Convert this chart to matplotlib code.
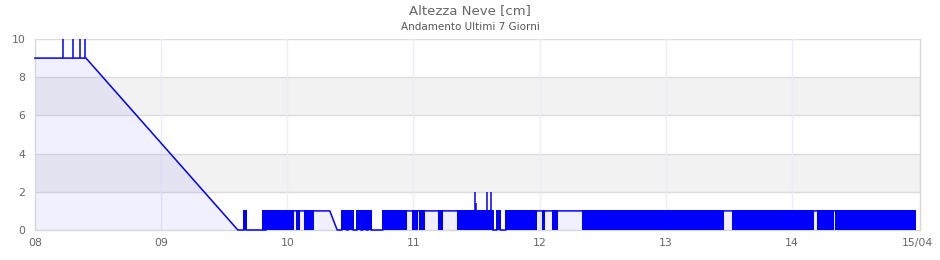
import matplotlib
matplotlib.use("Agg")
import matplotlib.pyplot as plt

# ---- data (time in hours since 08/04 00:00) ----
tick_hours = [0, 24, 48, 72, 96, 120, 144, 168]
tick_labels = ["08", "09", "10", "11", "12", "13", "14", "15/04"]

# early part: constant 9 cm then linear decline to 0
early_t = [0, 9.7, 38.6]
early_v = [9, 9, 0]

# isolated spikes (time, base level, top value)
spike_t = [5.4, 7.3, 8.5, 9.5, 83.7, 84.0, 86.0, 86.8]
spike_base = [9, 9, 9, 9, 1, 1, 1, 1]
spike_v = [10, 10, 10, 10, 2, 1.4, 2, 2]

# later part: segments; state lo = 0 cm, hi = 1 cm,
# mix = readings flickering between 0 and 1 cm, ramp = linear change
seg_start = [38.6, 39.8, 40.1, 43.4, 43.6, 44.0, 48.1, 48.5, 49.1, 49.8,
             50.2, 51.4, 52.9, 56.1, 57.5, 58.4, 59.3, 59.6, 60.5, 61.3,
             62.0, 62.4, 63.0, 63.4, 63.9, 66.2, 69.5, 69.8, 70.6, 71.9,
             72.7, 73.3, 74.0, 76.9, 77.4, 80.5, 87.1, 87.9, 88.5, 89.6,
             91.6, 91.9, 93.4, 93.8, 94.1, 94.4, 95.3, 96.6, 96.9, 98.6,
             99.3, 104.3, 116.3, 116.6, 119.5, 119.9, 120.0, 120.3, 121.7, 122.0,
             122.8, 123.1, 124.1, 124.4, 125.1, 125.4, 126.0, 126.3, 127.1, 127.5,
             128.9, 129.2, 130.9, 132.8, 133.5, 133.8, 135.0, 135.3, 136.5, 136.8,
             138.2, 138.5, 140.1, 140.4, 141.3, 141.6, 143.0, 143.3, 143.9, 144.2,
             145.4, 145.7, 146.8, 147.1, 147.5, 147.8, 148.0, 149.0, 151.8, 152.4,
             158.2, 158.5, 162.2, 162.5, 163.5, 163.8]
seg_state = ["lo", "mix", "lo", "mix", "lo", "mix", "hi", "mix", "hi", "mix",
             "hi", "mix", "hi", "ramp", "lo", "mix", "lo", "mix", "lo", "mix",
             "lo", "mix", "lo", "mix", "lo", "mix", "hi", "mix", "hi", "mix",
             "hi", "mix", "hi", "mix", "hi", "mix", "lo", "mix", "lo", "mix",
             "hi", "mix", "hi", "mix", "hi", "mix", "hi", "mix", "hi", "mix",
             "hi", "mix", "hi", "mix", "hi", "mix", "hi", "mix", "hi", "mix",
             "hi", "mix", "hi", "mix", "hi", "mix", "hi", "mix", "hi", "mix",
             "hi", "mix", "hi", "mix", "hi", "mix", "hi", "mix", "hi", "mix",
             "hi", "mix", "hi", "mix", "hi", "mix", "hi", "mix", "hi", "mix",
             "hi", "mix", "hi", "mix", "hi", "mix", "hi", "mix", "hi", "mix",
             "hi", "mix", "hi", "mix", "hi", "mix"]
seg_last_end = 167.4
level_of = {"lo": 0, "hi": 1, "mix": 1}

# ---- figure ----
fig = plt.figure(figsize=(9.4, 2.6), dpi=100)
ax = fig.add_axes([35 / 940, 1 - 230 / 260, 885 / 940, 191 / 260])

BLUE = "#0000ff"
GRAY_TXT = "#666666"

# bands
for lo, hi in [(2, 4), (6, 8)]:
    ax.axhspan(lo, hi, color="#f2f2f2", lw=0, zorder=0)

# build path
xs = list(early_t)
ys = list(early_v)
ends = seg_start[1:] + [seg_last_end]
mix_s, mix_w = [], []
for s, e, st in zip(seg_start, ends, seg_state):
    if st == "ramp":
        continue
    v = level_of[st]
    xs += [s, e]
    ys += [v, v]
    if st == "mix":
        mix_s.append(s)
        mix_w.append(e - s)

ax.fill_between(xs, ys, 0, color=(0, 0, 1, 0.06), lw=0, zorder=1)
ax.bar(mix_s, [1] * len(mix_s), width=mix_w, align="edge", color=BLUE,
       edgecolor=BLUE, linewidth=0.3, antialiased=False, zorder=3)
ax.plot(xs, ys, color=BLUE, lw=1.1, zorder=4, clip_on=False)
ax.vlines(spike_t, spike_base, spike_v, color=BLUE, lw=1.1, zorder=4)

# axes styling
ax.set_xlim(0, 168.4)
ax.set_ylim(0, 10)
ax.set_xticks(tick_hours)
ax.set_xticklabels(tick_labels)
ax.set_yticks([0, 2, 4, 6, 8, 10])
ax.tick_params(axis="both", length=0, labelsize=7.8, labelcolor=GRAY_TXT)
ax.tick_params(axis="y", pad=7)
ax.tick_params(axis="x", pad=6)
for y in [2, 4, 6, 8, 10]:
    ax.axhline(y, color="#dcdcdc", lw=1, zorder=0.5)
for x in tick_hours[1:-1]:
    ax.axvline(x, color="#ececfa", lw=1, zorder=0.5)
for side in ["left", "bottom", "right"]:
    ax.spines[side].set_color("#d8d8d8")
    ax.spines[side].set_linewidth(1)
ax.spines["top"].set_visible(False)

fig.text(470 / 940, 1 - 11 / 260, "Altezza Neve [cm]", ha="center", va="center",
         fontsize=9.5, color=GRAY_TXT)
fig.text(470 / 940, 1 - 27 / 260, "Andamento Ultimi 7 Giorni", ha="center",
         va="center", fontsize=7.5, color="#555555")

fig.savefig("out.png", dpi=100)
